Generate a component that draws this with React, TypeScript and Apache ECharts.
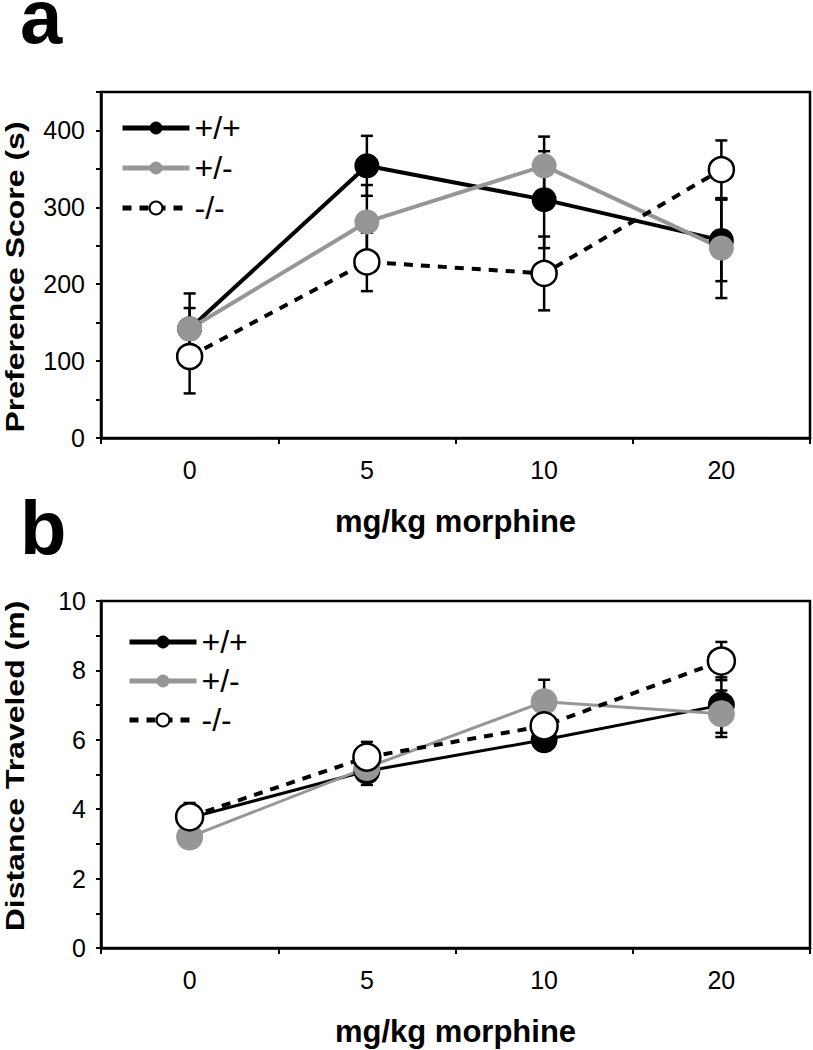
import React, { useEffect, useRef } from "react";
import * as echarts from "echarts";

// ---- data ----
const doses = ["0", "5", "10", "20"];
const genotypes = ["+/+", "+/-", "-/-"];

// panel a: preference score (s)
const prefWT = [142, 354, 310, 257];
const prefWTErr = [46, 39, 63, 53];
const prefHet = [142, 281, 354, 247];
const prefHetErr = [27, 48, 38, 65];
const prefKO = [106, 229, 214, 349];
const prefKOErr = [48, 38, 48, 38];

// panel b: distance traveled (m)
const distWT = [3.75, 5.1, 6.0, 7.0];
const distWTErr = [0.4, 0.4, 0.25, 0.8];
const distHet = [3.2, 5.2, 7.1, 6.75];
const distHetErr = [0.3, 0.3, 0.63, 0.67];
const distKO = [3.78, 5.5, 6.4, 8.27];
const distKOErr = [0.4, 0.44, 0.4, 0.55];

const prefLabelStep = 100;
const distLabelStep = 2;

const FONT = "'Liberation Sans', Arial, sans-serif";
const GRAY = "#969696";

function errSeries(idx: number, values: number[], errs: number[]) {
  return {
    type: "custom",
    name: "err" + idx + "_" + values.join("_"),
    xAxisIndex: idx,
    yAxisIndex: idx,
    z: 1,
    silent: true,
    data: values.map((v, i) => [i, v - errs[i], v + errs[i]]),
    encode: { x: 0, y: [1, 2] },
    renderItem: (params: any, api: any) => {
      const x = api.value(0);
      const lo = api.coord([x, api.value(1)]);
      const hi = api.coord([x, api.value(2)]);
      const w = 6;
      const style = { stroke: "#000", lineWidth: 2.5, fill: "none" };
      return {
        type: "group",
        children: [
          { type: "line", shape: { x1: lo[0], y1: lo[1], x2: hi[0], y2: hi[1] }, style },
          { type: "line", shape: { x1: lo[0] - w, y1: lo[1], x2: lo[0] + w, y2: lo[1] }, style },
          { type: "line", shape: { x1: hi[0] - w, y1: hi[1], x2: hi[0] + w, y2: hi[1] }, style },
        ],
      };
    },
  };
}

function lineSeries(idx: number, name: string, data: number[], size: number, width: number) {
  const base: any = {
    type: "line",
    name,
    xAxisIndex: idx,
    yAxisIndex: idx,
    data,
    z: 3,
    symbol: "circle",
    symbolSize: size,
    emphasis: { disabled: true },
    silent: true,
  };
  if (name === "+/+") {
    base.lineStyle = { color: "#000", width };
    base.itemStyle = { color: "#000" };
  } else if (name === "+/-") {
    base.lineStyle = { color: GRAY, width };
    base.itemStyle = { color: GRAY };
  } else {
    base.lineStyle = { color: "#000", width: 4, type: [9, 8] };
    base.itemStyle = { color: "#fff", borderColor: "#000", borderWidth: 2.5 };
  }
  return base;
}

function xAxis(idx: number, nameGap: number) {
  return {
    type: "category",
    gridIndex: idx,
    data: doses,
    boundaryGap: true,
    axisLine: { show: true, lineStyle: { color: "#000", width: 2.5 } },
    axisTick: { show: true, interval: 0, length: 6, lineStyle: { color: "#000", width: 2 } },
    axisLabel: { interval: 0, fontSize: 25, color: "#000", margin: 19, fontFamily: FONT },
    splitLine: { show: false },
    name: "mg/kg morphine",
    nameLocation: "middle",
    nameGap,
    nameTextStyle: { fontSize: 31, fontWeight: "bold", color: "#000", fontFamily: FONT },
  };
}

function yAxis(idx: number, max: number, interval: number, step: number, margin: number) {
  return {
    type: "value",
    gridIndex: idx,
    min: 0,
    max,
    interval,
    axisLine: { show: true, lineStyle: { color: "#000", width: 2.5 } },
    axisTick: { show: true, length: 5, lineStyle: { color: "#000", width: 2 } },
    splitLine: { show: false },
    axisLabel: {
      fontSize: 25,
      color: "#000",
      margin,
      fontFamily: FONT,
      formatter: (v: number) => (Math.abs(v % step) < 1e-9 ? String(v) : ""),
    },
  };
}

function legend(left: number, top: number, gap: number) {
  return {
    data: genotypes,
    orient: "vertical",
    left,
    top,
    padding: 0,
    itemWidth: 67,
    itemHeight: 16,
    itemGap: gap,
    selectedMode: false,
    lineStyle: { width: 5 },
    textStyle: { fontSize: 32, color: "#000", fontFamily: FONT },
  };
}

function yTitle(text: string, x: number, y: number) {
  return {
    type: "text",
    x,
    y,
    rotation: Math.PI / 2,
    scaleX: 1,
    scaleY: 0.82,
    silent: true,
    style: {
      text,
      fontSize: 32,
      fontWeight: "bold",
      fontFamily: FONT,
      fill: "#000",
      align: "center",
      verticalAlign: "middle",
    },
  };
}

export default function App() {
  const ref = useRef<HTMLDivElement>(null);
  useEffect(() => {
    if (!ref.current) return;
    const chart = echarts.init(ref.current, undefined, { renderer: "svg" });
    const gridBase = {
      left: 101,
      right: 3,
      show: true,
      borderColor: "#000",
      borderWidth: 2.5,
      containLabel: false,
      outerBoundsMode: "none",
    };
    chart.setOption({
      animation: false,
      backgroundColor: "#fff",
      textStyle: { fontFamily: FONT },
      grid: [
        { ...gridBase, top: 92, height: 346 },
        { ...gridBase, top: 601, height: 347 },
      ],
      xAxis: [xAxis(0, 68), xAxis(1, 68)],
      yAxis: [yAxis(0, 450, 50, prefLabelStep, 16), yAxis(1, 10, 1, distLabelStep, 15)],
      legend: [legend(120, 112, 8), legend(127, 626, 7)],
      graphic: [
        {
          type: "text",
          x: 20,
          y: 16,
          silent: true,
          style: { text: "a", fontSize: 76, fontWeight: "bold", fontFamily: FONT, fill: "#000", align: "left", verticalAlign: "middle", lineHeight: 30 },
        },
        {
          type: "text",
          x: 20,
          y: 527,
          silent: true,
          style: { text: "b", fontSize: 76, fontWeight: "bold", fontFamily: FONT, fill: "#000", align: "left", verticalAlign: "middle", lineHeight: 30 },
        },
        yTitle("Preference Score (s)", 15, 277),
        yTitle("Distance Traveled (m)", 15, 766),
      ],
      series: [
        errSeries(0, prefWT, prefWTErr),
        errSeries(0, prefHet, prefHetErr),
        errSeries(0, prefKO, prefKOErr),
        lineSeries(0, "+/+", prefWT, 25, 4),
        lineSeries(0, "+/-", prefHet, 25, 4),
        lineSeries(0, "-/-", prefKO, 25, 4),
        errSeries(1, distWT, distWTErr),
        errSeries(1, distHet, distHetErr),
        errSeries(1, distKO, distKOErr),
        lineSeries(1, "+/+", distWT, 27, 3),
        lineSeries(1, "+/-", distHet, 27, 3),
        lineSeries(1, "-/-", distKO, 27, 3),
      ],
    });
    return () => chart.dispose();
  }, []);
  return (
    <div
      ref={ref}
      style={{ position: "absolute", left: 0, top: 0, width: 813, height: 1050, background: "#fff" }}
    />
  );
}
